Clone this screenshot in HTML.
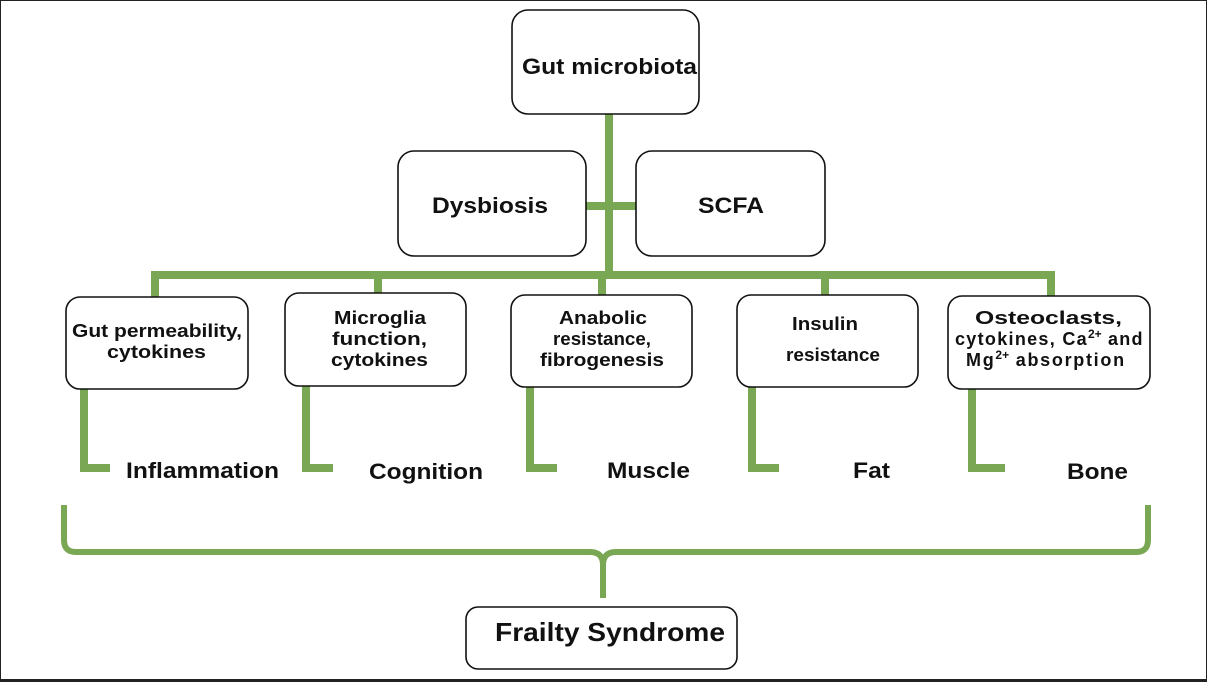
<!DOCTYPE html>
<html><head><meta charset="utf-8"><style>
html,body{margin:0;padding:0;background:#fff}
svg{display:block}
text{font-family:"Liberation Sans",Arial,sans-serif;font-weight:bold;fill:#111}
</style></head><body>
<svg width="1207" height="682" viewBox="0 0 1207 682" xmlns="http://www.w3.org/2000/svg">
<rect x="0.5" y="0.5" width="1206" height="680" fill="#fff" stroke="#222" stroke-width="1"/>
<rect x="0" y="679" width="1207" height="3" fill="#222"/>
<g fill="none" stroke="#7aa753" stroke-width="8">
<line x1="609" y1="112" x2="609" y2="275"/>
<line x1="584" y1="206" x2="637" y2="206"/>
<polyline points="155,297 155,275 1051,275 1051,296"/>
<line x1="378" y1="275" x2="378" y2="294"/>
<line x1="602" y1="275" x2="602" y2="296"/>
<line x1="825" y1="275" x2="825" y2="296"/>
<polyline points="84,389 84,468 110,468"/>
<polyline points="306,386 306,468 333,468"/>
<polyline points="530,387 530,468 557,468"/>
<polyline points="752,387 752,468 779,468"/>
<polyline points="972,389 972,468 1005,468"/>
</g>
<path d="M64,505 L64,540 Q64,552 76,552 L590,552 Q603,552 603,565 L603,598 M603,565 Q603,552 616,552 L1136,552 Q1148,552 1148,540 L1148,505" fill="none" stroke="#7aa753" stroke-width="6"/>
<g fill="#fff" stroke="#111" stroke-width="1.6">
<rect x="512" y="10" width="187" height="104" rx="16"/>
<rect x="398" y="151" width="188" height="105" rx="16"/>
<rect x="636" y="151" width="189" height="105" rx="16"/>
<rect x="66" y="297" width="182" height="92" rx="14"/>
<rect x="285" y="293" width="181" height="93" rx="14"/>
<rect x="511" y="295" width="181" height="92" rx="14"/>
<rect x="737" y="295" width="181" height="92" rx="14"/>
<rect x="948" y="296" width="202" height="93" rx="14"/>
<rect x="466" y="607" width="271" height="62" rx="12"/>
</g>
<text x="522" y="74" font-size="22" textLength="175" lengthAdjust="spacingAndGlyphs">Gut microbiota</text>
<text x="432" y="213" font-size="22" textLength="116" lengthAdjust="spacingAndGlyphs">Dysbiosis</text>
<text x="698" y="213" font-size="22" textLength="66" lengthAdjust="spacingAndGlyphs">SCFA</text>
<g font-size="18">
<text x="72" y="337" textLength="170" lengthAdjust="spacingAndGlyphs">Gut permeability,</text>
<text x="107" y="358" textLength="99" lengthAdjust="spacingAndGlyphs">cytokines</text>
<text x="334" y="324" textLength="92" lengthAdjust="spacingAndGlyphs">Microglia</text>
<text x="332" y="345" textLength="95" lengthAdjust="spacingAndGlyphs">function,</text>
<text x="331" y="366" textLength="97" lengthAdjust="spacingAndGlyphs">cytokines</text>
<text x="559" y="324" textLength="88" lengthAdjust="spacingAndGlyphs">Anabolic</text>
<text x="553" y="345" textLength="98" lengthAdjust="spacingAndGlyphs">resistance,</text>
<text x="540" y="366" textLength="124" lengthAdjust="spacingAndGlyphs">fibrogenesis</text>
<text x="792" y="330" textLength="66" lengthAdjust="spacingAndGlyphs">Insulin</text>
<text x="786" y="361" textLength="94" lengthAdjust="spacingAndGlyphs">resistance</text>
<text x="975" y="324" textLength="147" lengthAdjust="spacingAndGlyphs">Osteoclasts,</text>
<text x="955" y="345" letter-spacing="1.3">cytokines, Ca<tspan font-size="12" dy="-7" letter-spacing="0">2+</tspan><tspan dy="7"> and</tspan></text>
<text x="966" y="366" letter-spacing="1.7">Mg<tspan font-size="12" dy="-7" letter-spacing="0">2+</tspan><tspan dy="7"> absorption</tspan></text>
</g>
<g font-size="22">
<text x="126" y="478" textLength="153" lengthAdjust="spacingAndGlyphs">Inflammation</text>
<text x="369" y="479" textLength="114" lengthAdjust="spacingAndGlyphs">Cognition</text>
<text x="607" y="478" textLength="83" lengthAdjust="spacingAndGlyphs">Muscle</text>
<text x="853" y="478" textLength="37" lengthAdjust="spacingAndGlyphs">Fat</text>
<text x="1067" y="479" textLength="61" lengthAdjust="spacingAndGlyphs">Bone</text>
</g>
<text x="495" y="641" font-size="26" textLength="230" lengthAdjust="spacingAndGlyphs">Frailty Syndrome</text>
</svg>
</body></html>
